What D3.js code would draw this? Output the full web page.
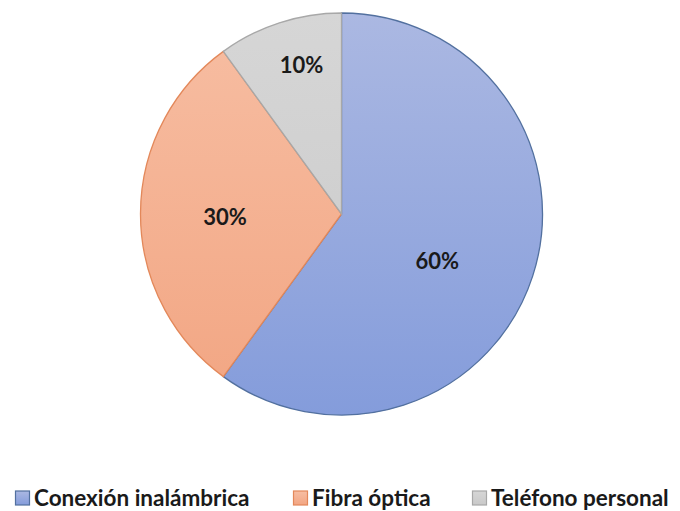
<!DOCTYPE html>
<html>
<head>
<meta charset="utf-8">
<script src="https://cdn.jsdelivr.net/npm/d3@7"></script>
<style>
  html, body { margin: 0; padding: 0; background: #fff; }
  svg { display: block; }
  text { font-family: "Lato", "Open Sans", sans-serif; font-weight: 700; }
</style>
</head>
<body>
<svg id="chart" width="680" height="511"></svg>
<script>
// Share of connection types
const categories = ["Conexión inalámbrica", "Fibra óptica", "Teléfono personal"];
const values = [60, 30, 10];
const labels = ["60%", "30%", "10%"];

// Fill gradients (top, bottom) and outline colour for each slice
const gradTop = ["#abb8e2", "#f7bea3", "#d6d6d6"];
const gradBottom = ["#849cdb", "#f2a582", "#c9c9c9"];
const strokes = ["#52709f", "#e3885a", "#a8a8a8"];

const svg = d3.select("#chart");
const cx = 341.5, cy = 214, r = 201;

const defs = svg.append("defs");
categories.forEach((c, i) => {
  const g = defs.append("linearGradient")
    .attr("id", "g" + i)
    .attr("gradientUnits", "userSpaceOnUse")
    .attr("x1", 0).attr("y1", -r)
    .attr("x2", 0).attr("y2", r);
  g.append("stop").attr("offset", "0%").attr("stop-color", gradTop[i]);
  g.append("stop").attr("offset", "100%").attr("stop-color", gradBottom[i]);

  const lg = defs.append("linearGradient").attr("id", "lg" + i)
    .attr("x1", 0).attr("y1", 0).attr("x2", 0).attr("y2", 1);
  lg.append("stop").attr("offset", "0%").attr("stop-color", gradTop[i]);
  lg.append("stop").attr("offset", "100%").attr("stop-color", gradBottom[i]);
});

const pie = d3.pie().sort(null).value(d => d);
const arcs = pie(values);
const arc = d3.arc().innerRadius(0).outerRadius(r);

const gPie = svg.append("g").attr("transform", `translate(${cx},${cy})`);
gPie.selectAll("path")
  .data(arcs)
  .join("path")
  .attr("d", arc)
  .attr("fill", (d, i) => `url(#g${i})`)
  .attr("stroke", (d, i) => strokes[i])
  .attr("stroke-width", 1.3);

// Percentage labels: radius fraction and angular nudge (degrees) per slice
const labelPlace = [[0.53, 8], [0.58, -1], [0.77, 3]];
gPie.selectAll("text")
  .data(arcs)
  .join("text")
  .attr("transform", (d, i) => {
    const [f, shift] = labelPlace[i];
    const a = (d.startAngle + d.endAngle) / 2 + shift * Math.PI / 180;
    const x = Math.sin(a) * r * f, y = -Math.cos(a) * r * f;
    return `translate(${x},${y})`;
  })
  .attr("text-anchor", "middle")
  .attr("dominant-baseline", "central")
  .attr("font-size", 22)
  .attr("fill", "#1a1a1a")
  .text((d, i) => labels[i]);

// Legend
const legendX = [15, 293, 472];
const legend = svg.append("g");
categories.forEach((c, i) => {
  const item = legend.append("g").attr("transform", `translate(${legendX[i]},497)`);
  item.append("rect")
    .attr("x", 0.5).attr("y", -6).attr("width", 14).attr("height", 14)
    .attr("fill", `url(#lg${i})`)
    .attr("stroke", strokes[i]).attr("stroke-width", 1.2);
  item.append("text")
    .attr("x", 19).attr("y", 0)
    .attr("dominant-baseline", "central")
    .attr("font-size", 22.5)
    .attr("fill", "#1a1a1a")
    .text(c);
});
</script>
</body>
</html>
